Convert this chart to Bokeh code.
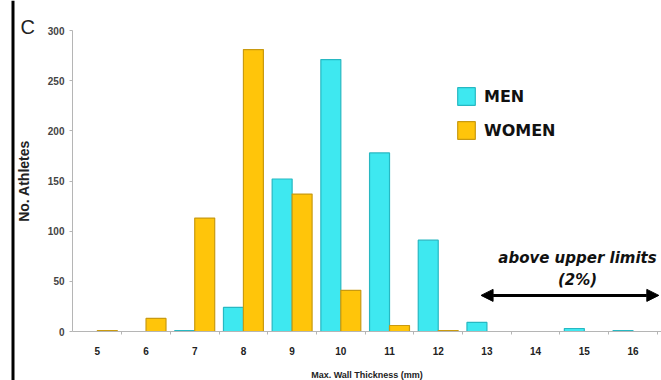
from bokeh.plotting import figure
from bokeh.models import (Range1d, FixedTicker, ColumnDataSource, CDSView, BooleanFilter,
                          Legend, LegendItem, Label, Arrow, NormalHead, BoxAnnotation)
from bokeh.embed import file_html
from bokeh.resources import INLINE

# Number of athletes per maximal LV wall thickness (mm)
thickness = [5, 6, 7, 8, 9, 10, 11, 12, 13, 14, 15, 16]
men = [0, 0, 1, 24, 152, 271, 178, 91, 9, 0, 3, 1]
women = [1, 13, 113, 281, 137, 41, 6, 1, 0, 0, 0, 0]
y_ticks = [0, 50, 100, 150, 200, 250, 300]

MEN_FILL, MEN_LINE = "#3ee8f0", "#27b8c2"
WOMEN_FILL, WOMEN_LINE = "#ffc50a", "#c99a10"
FONT = "Liberation Sans"
BAR_W = 0.41

# The frame fills the whole canvas; both axes sit at fixed data locations
# so the panel letter and the left rule can live inside it as well.
X0, X1 = 4.49, 16.585        # extent of the x axis
Y0, Y1 = 0, 300              # extent of the y axis
W, H = 661, 380
LEFT, TOP, BOTTOM = 72, 30, 331
px_x = (W - LEFT) / (X1 - X0)
px_y = (BOTTOM - TOP) / (Y1 - Y0)

p = figure(width=W, height=H, output_backend="svg", toolbar_location=None,
           x_range=Range1d(X0 - LEFT / px_x, X1),
           y_range=Range1d(Y0 - (H - BOTTOM) / px_y, Y1 + TOP / px_y),
           min_border=0, min_border_left=0, min_border_right=0,
           min_border_top=0, min_border_bottom=0)
p.outline_line_color = None
p.grid.visible = False
p.background_fill_color = "white"
p.border_fill_color = "white"

men_src = ColumnDataSource(dict(x=[t - BAR_W / 2 for t in thickness], top=men))
women_src = ColumnDataSource(dict(x=[t + BAR_W / 2 for t in thickness], top=women))
men_view = CDSView(filter=BooleanFilter([v > 0 for v in men]))
women_view = CDSView(filter=BooleanFilter([v > 0 for v in women]))

r_men = p.vbar(x="x", top="top", bottom=0, width=BAR_W, source=men_src, view=men_view,
               fill_color=MEN_FILL, line_color=MEN_LINE, line_width=1.2)
r_women = p.vbar(x="x", top="top", bottom=0, width=BAR_W, source=women_src, view=women_view,
                 fill_color=WOMEN_FILL, line_color=WOMEN_LINE, line_width=1.2)

# axes
xa = p.xaxis[0]
xa.fixed_location = Y0
xa.bounds = (X0, X1)
xa.ticker = FixedTicker(ticks=thickness, minor_ticks=[t + 0.5 for t in thickness])
xa.axis_line_color = "#b5b5b5"
xa.major_tick_line_color = None
xa.minor_tick_line_color = "#b5b5b5"
xa.minor_tick_out = 3
xa.minor_tick_in = 0
xa.major_label_standoff = 9
xa.major_label_text_font = FONT
xa.major_label_text_font_style = "bold"
xa.major_label_text_font_size = "10px"
xa.major_label_text_color = "#222222"
xa.axis_label = "Max. Wall Thickness (mm)"
xa.axis_label_text_font = FONT
xa.axis_label_text_font_style = "bold"
xa.axis_label_text_font_size = "9px"
xa.axis_label_text_color = "#222222"
xa.axis_label_standoff = 12

ya = p.yaxis[0]
ya.fixed_location = X0
ya.bounds = (Y0, Y1)
ya.ticker = FixedTicker(ticks=y_ticks)
ya.axis_line_color = "#b5b5b5"
ya.major_tick_line_color = "#b5b5b5"
ya.major_tick_out = 3
ya.major_tick_in = 0
ya.minor_tick_line_color = None
ya.major_label_standoff = 5
ya.major_label_text_font = FONT
ya.major_label_text_font_style = "bold"
ya.major_label_text_font_size = "10px"
ya.major_label_text_color = "#444444"
ya.axis_label = "No. Athletes"
ya.axis_label_text_font = FONT
ya.axis_label_text_font_style = "bold"
ya.axis_label_text_font_size = "14px"
ya.axis_label_text_color = "#222222"
ya.axis_label_standoff = 13

# legend
legend = Legend(items=[LegendItem(label="MEN", renderers=[r_men]),
                       LegendItem(label="WOMEN", renderers=[r_women])],
                location=(455, 239), orientation="vertical",
                glyph_width=22, glyph_height=22, spacing=12, padding=0, margin=0,
                label_standoff=7, label_text_font="DejaVu Sans",
                label_text_font_style="bold", label_text_font_size="16px",
                label_text_color="#111111",
                border_line_color=None, background_fill_alpha=0)
p.add_layout(legend)

# "above upper limits" annotation
p.add_layout(Label(x=14.86, y=73, text="above upper limits", text_align="center",
                   text_baseline="middle", text_font="DejaVu Sans",
                   text_font_style="bold italic", text_font_size="15px",
                   text_color="#111111"))
p.add_layout(Label(x=14.86, y=51, text="(2%)", text_align="center",
                   text_baseline="middle", text_font="DejaVu Sans",
                   text_font_style="bold italic", text_font_size="15px",
                   text_color="#111111"))
p.add_layout(Arrow(x_start=12.88, y_start=36, x_end=16.53, y_end=36,
                   line_width=3, line_color="black",
                   start=NormalHead(size=12, fill_color="black", line_color="black"),
                   end=NormalHead(size=12, fill_color="black", line_color="black")))

# panel letter and left frame rule
p.add_layout(Label(x=20, y=354, x_units="screen", y_units="screen", text="C",
                   text_font=FONT, text_font_size="20px", text_color="#222222",
                   text_baseline="alphabetic"))
p.add_layout(BoxAnnotation(left=11, right=14, left_units="screen", right_units="screen",
                           fill_color="black", fill_alpha=1, line_color=None))

open("out.html", "w").write(file_html(p, INLINE))
